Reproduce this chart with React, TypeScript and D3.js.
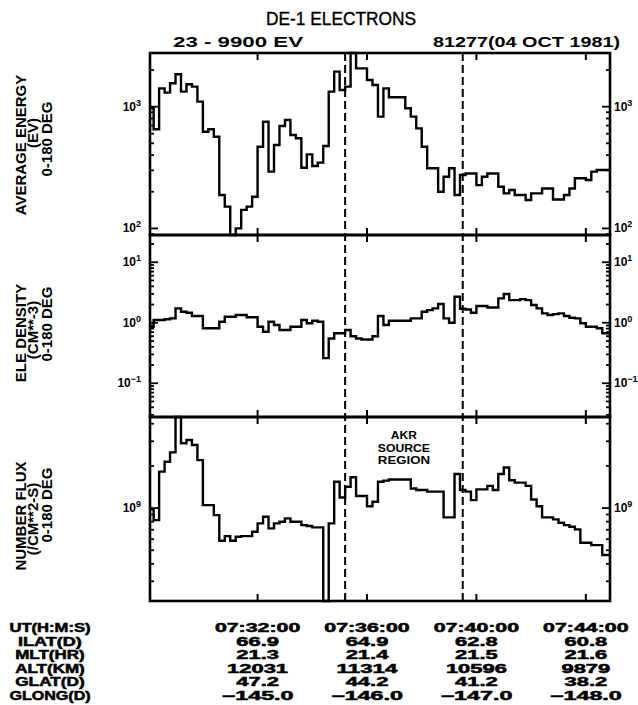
import React from "react";
import * as d3 from "d3";

const parseTime = d3.timeParse("%H:%M:%S");

// Accumulation bins: 12 s each, the first one starting at BIN_START
const BIN_START = "07:28:00";
const BIN_SECONDS = 12;

// Average energy (eV), 0-180 deg pitch angles
const AVG_ENERGY = [
  970, 652, 1415, 1304, 1556, 1845, 1329, 1527, 1461, 1100,
  623, 652, 567, 188, 151, 70, 100, 142, 151, 182,
  469, 753, 293, 484, 694, 777, 585, 550, 315, 406,
  326, 347, 475, 1329, 1940, 1371, 1461, 3200, 2066, 2066,
  1657, 1508, 828, 1415, 1194, 1194, 1194, 970, 828, 664,
  469, 312, 312, 200, 266, 312, 188, 275, 283, 283,
  227, 266, 283, 283, 220, 194, 207, 188, 188, 171,
  194, 194, 213, 213, 173, 173, 188, 213, 258, 258,
  250, 293, 302, 302, 302,
];

// Electron density (cm^-3)
const ELE_DENSITY = [
  0.86, 1.11, 1.11, 1.14, 1.18, 1.73, 1.52, 1.46, 1.29, 1.29,
  0.81, 0.81, 0.81, 1.04, 1.26, 1.26, 1.34, 1.34, 1.23, 1.23,
  0.86, 0.71, 1.04, 0.92, 0.76, 0.76, 0.86, 0.86, 1.11, 0.98,
  1.08, 1.04, 0.26, 0.55, 0.67, 0.67, 0.76, 0.6, 0.55, 0.53,
  0.53, 0.6, 1.29, 0.92, 1.08, 1.08, 1.08, 1.08, 1.18, 1.18,
  1.52, 1.62, 1.73, 2.04, 1.18, 1.0, 2.69, 1.7, 1.66, 1.46,
  1.89, 1.89, 1.79, 1.79, 2.53, 2.98, 2.37, 2.37, 2.46, 2.37,
  1.96, 1.73, 1.43, 1.34, 1.39, 1.43, 1.29, 1.21, 1.18, 0.98,
  0.86, 0.86, 0.81, 0.67, 0.67,
];

// Number flux (/cm^2-s)
const NUMBER_FLUX = [
  9.8e8, 8.2e8, 1.82e9, 2.14e9, 2.5e9, 6e9, 2.9e9, 3.06e9, 2.82e9, 2.2e9,
  1.05e9, 1.05e9, 8.9e8, 5.85e8, 6.31e8, 5.85e8, 6.24e8, 6.31e8, 6.31e8, 6.78e8,
  7.77e8, 8.67e8, 7.16e8, 7.77e8, 7.99e8, 8.44e8, 7.99e8, 7.99e8, 7.56e8, 7.44e8,
  7.28e8, 7.28e8, 1e8, 7.77e8, 1.54e9, 1.19e9, 1.42e9, 1.66e9, 1.22e9, 1.22e9,
  1.03e9, 1.11e9, 1.54e9, 1.57e9, 1.6e9, 1.6e9, 1.6e9, 1.6e9, 1.38e9, 1.345e9,
  1.345e9, 1.31e9, 1.31e9, 1.31e9, 8.58e8, 8.58e8, 1.75e9, 1.345e9, 1.31e9, 1.14e9,
  1.36e9, 1.36e9, 1.44e9, 1.345e9, 1.75e9, 1.95e9, 1.58e9, 1.52e9, 1.52e9, 1.44e9,
  1.15e9, 1.03e9, 8.58e8, 8.58e8, 8.3e8, 7.86e8, 7.56e8, 7.36e8, 7.04e8, 5.65e8,
  5.65e8, 5.44e8, 5.44e8, 4.62e8, 4.62e8,
];

const AXIS_START = "07:28:04";
const AXIS_END = "07:44:53";
const TICK_TIMES = ["07:32:00", "07:36:00", "07:40:00", "07:44:00"];
const AKR_BOUNDARIES = ["07:35:12", "07:39:30"];
const AKR_LABEL = ["AKR", "SOURCE", "REGION"];

const ENERGY_RANGE: [number, number] = [88.3, 2761];
const DENSITY_RANGE: [number, number] = [0.0277, 28.2];
const FLUX_RANGE: [number, number] = [2.17e8, 4.47e9];

const ENERGY_LABEL_EXPS = [2, 3];
const DENSITY_LABEL_EXPS = [-1, 0, 1];
const FLUX_LABEL_EXPS = [9];

const ENERGY_TITLE = ["AVERAGE ENERGY", "(EV)", "0-180 DEG"];
const DENSITY_TITLE = ["ELE DENSITY", "(CM**-3)", "0-180 DEG"];
const FLUX_TITLE = ["NUMBER FLUX", "(/CM**2-S)", "0-180 DEG"];

const ROW_NAMES = ["UT(H:M:S)", "ILAT(D)", "MLT(HR)", "ALT(KM)", "GLAT(D)", "GLONG(D)"];
const ILAT = ["66.9", "64.9", "62.8", "60.8"];
const MLT = ["21.3", "21.4", "21.5", "21.6"];
const ALT = ["12031", "11314", "10596", "9879"];
const GLAT = ["47.2", "44.2", "41.2", "38.2"];
const GLONG = ["\u2212145.0", "\u2212146.0", "\u2212147.0", "\u2212148.0"];

const TITLE = "DE-1 ELECTRONS";
const ENERGY_BAND = "23 -  9900 EV";
const ORBIT_DATE = "81277(04 OCT 1981)";

// ---- layout ----
const W = 638;
const H = 705;
const LEFT = 150;
const RIGHT = 610;
const PANEL_EDGES = [53, 235, 417, 601];
const FONT = "'Liberation Sans', Arial, Helvetica, sans-serif";

type PanelSpec = {
  values: number[];
  range: [number, number];
  labelExps: number[];
  title: string[];
  titleShift: number[];
};

const PANELS: PanelSpec[] = [
  { values: AVG_ENERGY, range: ENERGY_RANGE, labelExps: ENERGY_LABEL_EXPS, title: ENERGY_TITLE, titleShift: [1, -11, -5] },
  { values: ELE_DENSITY, range: DENSITY_RANGE, labelExps: DENSITY_LABEL_EXPS, title: DENSITY_TITLE, titleShift: [7, 4, -2] },
  { values: NUMBER_FLUX, range: FLUX_RANGE, labelExps: FLUX_LABEL_EXPS, title: FLUX_TITLE, titleShift: [7, 10, -4] },
];

const TITLE_BASELINES = [26, 37.5, 52];

function logTicks([lo, hi]: [number, number]) {
  const out: { v: number; major: boolean }[] = [];
  for (let n = Math.floor(Math.log10(lo)); n <= Math.ceil(Math.log10(hi)); n++) {
    for (let k = 1; k <= 9; k++) {
      const v = k * Math.pow(10, n);
      if (v >= lo * 0.999 && v <= hi * 1.001) out.push({ v, major: k === 1 });
    }
  }
  return out;
}

// horizontal width units for the wide plotter lettering
const glyphUnits = (s: string) =>
  Array.from(s).reduce(
    (w, c) =>
      w + (".:()".includes(c) ? 0.5 : c === " " ? 0.6 : c === "\u2212" || c === "-" ? 1.4 : c === "I" ? 0.5 : 1),
    0
  );

function Panel({
  spec,
  top,
  bottom,
  idx,
  x,
  binTime,
  tickXs,
}: {
  spec: PanelSpec;
  top: number;
  bottom: number;
  idx: number;
  x: d3.ScaleTime<number, number>;
  binTime: (i: number) => Date;
  tickXs: number[];
}) {
  const y = d3.scaleLog().domain(spec.range).range([bottom, top]).clamp(true);
  const pts: [number, number][] = spec.values.map((v, i) => [x(binTime(i)), y(v)]);
  pts.push([x(binTime(spec.values.length)), y(spec.values[spec.values.length - 1])]);
  const path = d3.line().curve(d3.curveStepAfter)(pts) || "";
  const ticks = logTicks(spec.range);
  const clipId = `clip-${idx}`;
  const mid = (top + bottom) / 2;

  return (
    <g>
      <defs>
        <clipPath id={clipId}>
          <rect x={LEFT} y={top - 2} width={RIGHT - LEFT} height={bottom - top + 4} />
        </clipPath>
      </defs>
      <path d={path} fill="none" stroke="#000" strokeWidth={2.4} strokeLinejoin="miter" clipPath={`url(#${clipId})`} />
      <rect x={LEFT} y={top} width={RIGHT - LEFT} height={bottom - top} fill="none" stroke="#000" strokeWidth={2.6} />
      {ticks.map((t, i) => {
        const yy = y(t.v);
        const len = t.major ? 8 : 4;
        return (
          <g key={i} stroke="#000" strokeWidth={1.8}>
            <line x1={LEFT} x2={LEFT + len} y1={yy} y2={yy} />
            <line x1={RIGHT - len} x2={RIGHT} y1={yy} y2={yy} />
          </g>
        );
      })}
      {tickXs.map((tx, i) => (
        <g key={i} stroke="#000" strokeWidth={2}>
          <line x1={tx} x2={tx} y1={top} y2={top + 7} />
          <line x1={tx} x2={tx} y1={bottom - 7} y2={bottom} />
        </g>
      ))}
      {spec.labelExps.map((e) => {
        const yy = y(Math.pow(10, e)) + 4;
        const sup = e < 0 ? `\u2212${-e}` : `${e}`;
        return (
          <g key={e} fontWeight="bold" fontSize={12}>
            <text x={LEFT - 9} y={yy} textAnchor="end">
              10<tspan dy={-5} fontSize={9}>{sup}</tspan>
            </text>
            <text x={RIGHT + 4} y={yy}>
              10<tspan dy={-5} fontSize={9}>{sup}</tspan>
            </text>
          </g>
        );
      })}
      {spec.title.map((line, i) => (
        <text
          key={i}
          transform={`translate(${TITLE_BASELINES[i]},${mid + spec.titleShift[i]}) rotate(-90)`}
          textAnchor="middle"
          fontWeight="bold"
          fontSize={15}
        >
          {line}
        </text>
      ))}
    </g>
  );
}

export default function App() {
  const x = d3
    .scaleTime()
    .domain([parseTime(AXIS_START)!, parseTime(AXIS_END)!])
    .range([LEFT, RIGHT]);
  const t0 = parseTime(BIN_START)!;
  const binTime = (i: number) => d3.timeSecond.offset(t0, i * BIN_SECONDS);
  const tickXs = TICK_TIMES.map((s) => x(parseTime(s)!));
  const akrXs = AKR_BOUNDARIES.map((s) => x(parseTime(s)!));
  const akrMid = (akrXs[0] + akrXs[1]) / 2;

  const rows = [TICK_TIMES, ILAT, MLT, ALT, GLAT, GLONG];
  const rowY = [632, 645.5, 659, 672.5, 686, 699.5];

  return (
    <svg
      width={W}
      height={H}
      viewBox={`0 0 ${W} ${H}`}
      style={{ position: "absolute", left: 0, top: 0, background: "#fff" }}
      fontFamily={FONT}
      fill="#000"
    >
      <rect width={W} height={H} fill="#fff" />

      <text x={266} y={25} fontSize={19} stroke="#000" strokeWidth={0.4} textLength={150} lengthAdjust="spacingAndGlyphs">
        {TITLE}
      </text>
      <text x={173} y={47} fontSize={15} fontWeight="bold" textLength={130} lengthAdjust="spacingAndGlyphs">
        {ENERGY_BAND}
      </text>
      <text x={433} y={47} fontSize={15} fontWeight="bold" textLength={187} lengthAdjust="spacingAndGlyphs">
        {ORBIT_DATE}
      </text>

      {PANELS.map((p, i) => (
        <Panel
          key={i}
          idx={i}
          spec={p}
          top={PANEL_EDGES[i]}
          bottom={PANEL_EDGES[i + 1]}
          x={x}
          binTime={binTime}
          tickXs={tickXs}
        />
      ))}

      {akrXs.map((ax, i) => (
        <line
          key={i}
          x1={ax}
          x2={ax}
          y1={PANEL_EDGES[0]}
          y2={PANEL_EDGES[3]}
          stroke="#000"
          strokeWidth={2}
          strokeDasharray="8 4"
        />
      ))}

      {AKR_LABEL.map((s, i) => (
        <text
          key={s}
          x={akrMid}
          y={439 + i * 12.5}
          textAnchor="middle"
          fontSize={10}
          fontWeight="bold"
          textLength={s.length * 8.7}
          lengthAdjust="spacingAndGlyphs"
        >
          {s}
        </text>
      ))}

      {ROW_NAMES.map((name, r) => (
        <g key={name} fontWeight="bold" fontSize={12} stroke="#000" strokeWidth={0.5}>
          <text
            x={50}
            y={rowY[r]}
            textAnchor="middle"
            textLength={glyphUnits(name) * 11.6}
            lengthAdjust="spacingAndGlyphs"
          >
            {name}
          </text>
          {rows[r].map((v, j) => (
            <text
              key={j}
              x={tickXs[j]}
              y={rowY[r]}
              textAnchor="middle"
              textLength={glyphUnits(v) * 12.2}
              lengthAdjust="spacingAndGlyphs"
            >
              {v}
            </text>
          ))}
        </g>
      ))}
    </svg>
  );
}
